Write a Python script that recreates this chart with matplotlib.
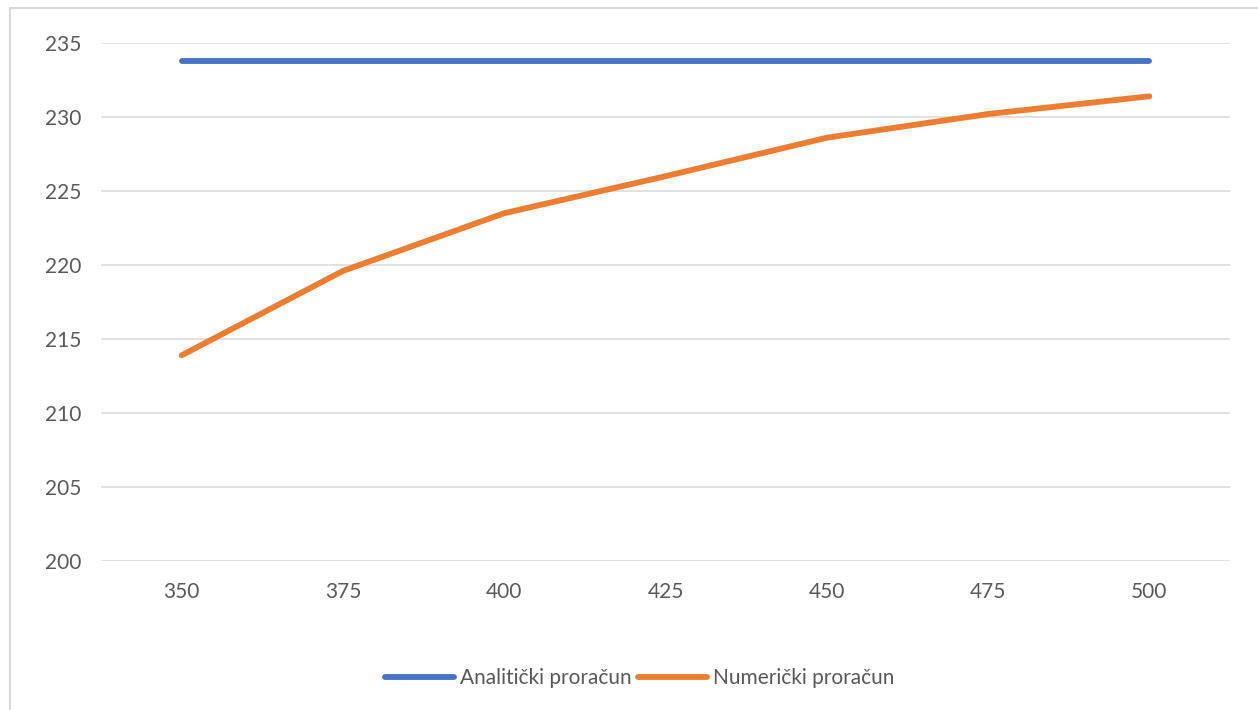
import matplotlib.pyplot as plt
from matplotlib.patches import Rectangle

# Data
categories = ["350", "375", "400", "425", "450", "475", "500"]
analiticki = [233.8, 233.8, 233.8, 233.8, 233.8, 233.8, 233.8]
numericki = [213.9, 219.6, 223.5, 226.0, 228.6, 230.2, 231.4]
y_ticks = [200, 205, 210, 215, 220, 225, 230, 235]

plt.rcParams['font.family'] = ['Lato', 'DejaVu Sans']
text_color = "#595959"

fig = plt.figure(figsize=(12.58, 7.10), dpi=100)
ax = fig.add_axes([101 / 1258, 1 - 561 / 710, (1230 - 101) / 1258, (561 - 43) / 710])

x = list(range(len(categories)))
ax.plot(x, analiticki, color="#4472C4", lw=4.2, solid_capstyle="round",
        label="Analitički proračun")
ax.plot(x, numericki, color="#ED7D31", lw=4.2, solid_capstyle="round",
        solid_joinstyle="round", label="Numerički proračun")

ax.set_xlim(-0.5, len(categories) - 0.5)
ax.set_ylim(200, 235)
ax.set_xticks(x)
ax.set_xticklabels(categories)
ax.set_yticks(y_ticks)
ax.grid(axis="y", color="#D9D9D9", lw=1.1)
ax.set_axisbelow(True)
for s in ax.spines.values():
    s.set_visible(False)
ax.tick_params(length=0, labelsize=15, colors=text_color)
ax.tick_params(axis="y", pad=14)
ax.tick_params(axis="x", pad=15)

leg = fig.legend(loc="center", bbox_to_anchor=(640 / 1258, 1 - 678 / 710), ncol=2,
                 frameon=False, fontsize=15, handlelength=3.3, handletextpad=0.3,
                 columnspacing=0.3)
for t in leg.get_texts():
    t.set_color(text_color)

# chart border (left and top visible in the reference)
fig.patches.append(Rectangle((10 / 1258, -0.1), 1.2, 1 - 8 / 710 + 0.1,
                             transform=fig.transFigure, fill=False,
                             edgecolor="#D9D9D9", lw=1.5))

fig.savefig("out.png", dpi=100)
